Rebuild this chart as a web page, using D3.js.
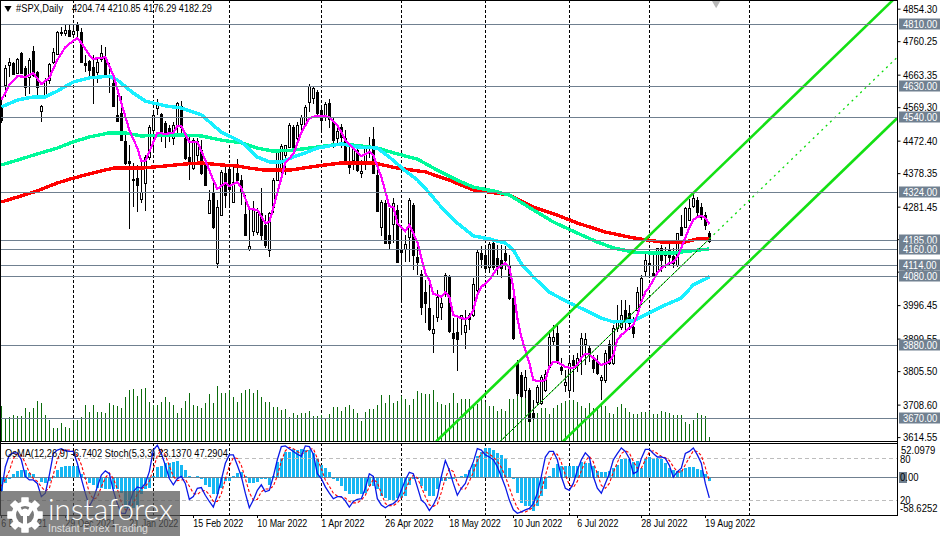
<!DOCTYPE html>
<html>
<head>
<meta charset="utf-8">
<script src="https://cdn.jsdelivr.net/npm/d3@7"></script>
<style>
html, body { margin: 0; padding: 0; background: #fff; overflow: hidden; }
svg { display: block; }
text { font-family: "Liberation Sans", sans-serif; font-size: 10px; fill: #000; }
</style>
</head>
<body>
<svg id="chart" width="942" height="536"></svg>
<script>
// open, high, low, close for every daily bar
const candles = [
[4570,4590,4523,4532],[4633,4691,4599,4682],[4691,4711,4656,4700],[4697,4700,4662,4665],[4668,4711,4665,4709],
[4726,4729,4665,4668],[4682,4688,4602,4627],[4656,4711,4607,4706],[4732,4746,4656,4662],[4671,4674,4602,4627],
[4558,4575,4526,4573],[4604,4654,4596,4648],[4648,4697,4636,4694],[4700,4740,4694,4729],[4723,4789,4720,4786],
[4786,4801,4775,4784],[4784,4807,4775,4793],[4793,4807,4772,4775],[4781,4807,4769,4789],[4807,4815,4769,4793],
[4786,4798,4700,4700],[4697,4720,4671,4691],[4703,4706,4656,4677],[4685,4720,4578,4662],[4671,4711,4639,4700],
[4709,4749,4700,4726],[4714,4743,4659,4662],[4662,4697,4610,4659],[4639,4665,4570,4573],[4546,4604,4526,4529],
[4552,4602,4471,4474],[4471,4488,4402,4408],[4414,4459,4217,4408],[4362,4408,4281,4359],[4365,4402,4266,4344],
[4304,4414,4292,4324],[4350,4431,4269,4425],[4425,4517,4416,4512],[4503,4552,4445,4546],[4567,4593,4546,4578],
[4549,4552,4468,4495],[4524,4529,4451,4498],[4509,4517,4468,4488],[4480,4526,4460,4517],[4517,4584,4488,4581],
[4573,4587,4495,4512],[4480,4495,4416,4422],[4425,4483,4359,4408],[4393,4480,4387,4474],[4431,4480,4402,4471],
[4445,4474,4373,4379],[4402,4408,4344,4344],[4263,4330,4260,4301],[4321,4359,4217,4223],[4119,4301,4104,4281],
[4258,4387,4255,4382],[4379,4402,4278,4315],[4391,4402,4278,4333],[4295,4402,4292,4353],[4379,4420,4353,4359],
[4359,4373,4286,4324],[4260,4315,4197,4200],[4159,4275,4153,4168],[4211,4298,4197,4275],[4209,4278,4200,4266],
[4263,4336,4183,4200],[4229,4258,4162,4171],[4156,4266,4136,4263],[4281,4365,4263,4359],[4359,4445,4356,4440],
[4388,4463,4373,4457],[4431,4460,4373,4460],[4454,4524,4451,4517],[4512,4517,4445,4451],[4480,4526,4457,4517],
[4521,4546,4495,4541],[4521,4575,4517,4570],[4584,4636,4555,4630],[4596,4630,4578,4625],[4613,4619,4538,4552],
[4561,4567,4503,4532],[4546,4584,4529,4578],[4581,4593,4509,4535],[4526,4538,4451,4474],[4480,4517,4457,4500],
[4512,4521,4451,4483],[4480,4503,4408,4411],[4402,4460,4376,4396],[4416,4460,4388,4448],[4445,4460,4382,4388],
[4379,4416,4365,4385],[4408,4454,4388,4454],[4451,4483,4422,4460],[4477,4512,4376,4379],[4373,4396,4266,4269],
[4223,4301,4197,4295],[4292,4301,4174,4177],[4200,4278,4159,4177],[4232,4307,4177,4292],[4272,4286,4119,4122],
[4156,4229,4011,4151],[4159,4200,4122,4174],[4194,4307,4122,4301],[4287,4292,4099,4142],[4136,4185,4084,4122],
[4087,4099,3969,3992],[4035,4070,3946,4003],[3989,4070,3922,3928],[3917,3969,3859,3928],[3963,4041,3948,4021],
[3992,4026,3954,4003],[4035,4090,4021,4084],[4078,4084,3917,3922],[3917,3960,3859,3902],[3920,3969,3807,3899],
[3960,3969,3911,3969],[3920,3983,3870,3940],[3969,3974,3925,3957],[3969,4075,3963,4058],[4041,4156,4026,4151],
[4148,4168,4104,4130],[4142,4165,4099,4104],[4107,4180,4090,4174],[4177,4183,4099,4107],[4133,4171,4084,4107],
[4128,4171,4076,4104],[4148,4168,4099,4128],[4110,4142,4012,4018],[4018,4041,3896,3902],[3830,3839,3734,3743],
[3795,3804,3729,3735],[3752,3810,3729,3789],[3752,3758,3659,3662],[3685,3723,3665,3674],[3717,3766,3708,3761],
[3714,3795,3708,3789],[3752,3810,3746,3798],[3818,3925,3813,3905],[3893,3940,3882,3905],[3917,3940,3827,3833],
[3818,3844,3795,3810],[3766,3810,3746,3775],[3752,3853,3734,3830],[3839,3853,3746,3824],[3824,3859,3804,3844],
[3847,3917,3795,3902],[3885,3917,3824,3899],[3873,3879,3833,3853],[3839,3853,3801,3815],[3833,3853,3795,3801],
[3781,3795,3723,3789],[3781,3868,3772,3859],[3885,3896,3824,3830],[3830,3940,3824,3931],[3931,3998,3920,3954],
[3934,4012,3925,3969],[3983,4012,3925,3954],[3974,3998,3925,3946],[3934,3963,3902,3917],[3983,4050,3969,4035],
[4012,4084,4006,4076],[4096,4148,4078,4128],[4119,4151,4078,4113],[4090,4151,4078,4081],[4093,4162,4084,4162],
[4162,4171,4093,4128],[4151,4165,4104,4142],[4156,4180,4110,4136],[4139,4162,4104,4119],[4113,4206,4107,4206],
[4223,4258,4200,4200],[4223,4280,4220,4278],[4243,4304,4240,4278],[4284,4318,4278,4307],[4301,4310,4252,4266],
[4281,4292,4243,4252],[4258,4266,4214,4229],[4204.74,4210.85,4176.29,4182.29]
];

const volumes = [
105,65,73,78,75,75,98,86,98,120,115,78,63,38,38,53,43,38,63,63,
73,108,86,108,86,86,83,113,108,105,98,133,153,156,135,156,158,118,108,108,
118,133,118,108,83,98,120,143,108,105,98,113,141,115,165,143,143,153,133,118,
143,153,156,143,153,133,118,118,103,101,93,95,73,85,78,85,85,90,75,75,
77,67,80,102,102,90,102,107,95,85,60,87,95,97,107,138,113,138,113,120,
135,125,107,127,150,143,140,140,152,117,110,107,113,145,115,125,125,125,110,110,
125,117,105,105,90,95,90,127,127,135,140,140,105,90,85,100,100,80,100,107,
113,120,122,122,117,105,100,113,100,97,110,105,85,80,102,110,100,87,80,80,
87,87,89,82,82,91,87,84,79,77,79,57,52,64,84,77,76,12
];

const osma = [
-22,-9,-4,5,9,10,10,6,4,0,-8,-9,-7,1,11,15,17,17,17,16,
5,-4,-9,-12,-17,-17,-18,-18,-19,-19,-25,-48,-48,-48,-45,-27,-19,-17,1,15,
17,21,22,23,24,19,11,2,0,2,-4,-12,-15,-26,-26,-17,-7,-7,2,6,
8,1,-9,-9,-8,-4,-4,-12,1,23,29,38,39,43,42,43,42,42,37,28,
19,14,7,-3,-7,-14,-22,-27,-27,-27,-27,-25,-14,-14,-19,-30,-32,-35,-35,-32,
-32,-30,-12,-4,-4,-14,-21,-30,-30,-19,-7,-6,-4,-3,-2,1,5,10,20,32,
39,44,45,42,37,34,27,14,-4,-25,-40,-45,-45,-53,-45,-30,-19,1,14,20,
17,17,17,17,17,23,22,22,16,9,7,7,9,14,19,27,27,27,23,24,
14,29,31,29,29,27,22,14,10,9,10,14,15,15,12,10,4,-6.74
];

const stochMain = [
32,68,85,88,88,78,54,49,49,44,25,30,56,87,92,94,91,90,90,73,
51,30,11,22,39,56,62,58,34,15,1,1,15,32,39,37,44,61,92,99,
87,70,51,42,51,54,44,21,25,37,38,27,18,10,27,49,73,85,85,70,
54,30,9,20,34,42,32,34,54,78,97,98,94,90,86,83,98,97,86,58,
51,39,30,22,25,25,19,10,18,21,22,37,58,54,22,13,9,13,15,20,
34,49,60,58,39,20,15,5,13,25,54,77,63,44,27,37,44,61,75,94,
92,85,82,78,68,54,39,20,6,1,3,6,8,15,30,54,82,90,90,78,
54,37,34,44,63,78,88,82,54,37,30,44,58,78,87,95,90,80,58,61,
80,93,93,87,82,82,80,70,53,61,66,87,90,95,85,73,44,23.14
];

const stochSignal = [
40,50,62,80,87,85,73,60,51,47,39,33,37,57,78,91,92,92,90,84,
71,51,31,21,24,39,52,59,51,36,17,6,6,16,29,36,40,47,65,84,
93,85,69,54,48,49,50,40,30,28,33,34,28,18,18,29,50,69,81,80,
70,51,31,20,21,32,36,36,40,55,76,91,96,94,90,86,89,93,94,80,
65,49,40,30,26,24,23,18,16,16,20,27,39,50,45,30,15,12,12,16,
23,34,48,56,52,39,25,13,11,14,31,52,65,61,45,36,36,47,60,77,
87,90,86,82,76,67,54,38,22,9,3,3,6,10,18,33,55,75,87,86,
74,56,42,38,47,62,76,83,75,58,41,37,44,60,74,87,91,88,76,66,
66,78,89,91,87,83,81,77,68,61,60,71,81,91,90,84,67,47.29
];

const maFastBars = [0,2,4,6,8,10,12,14,16,18,19,20,22,23,25,26,28,30,32,34,35,36,37,39,41,43,44,45,47,49,51,53,54,56,57,59,60,62,64,66,67,69,71,73,75,77,79,80,82,84,86,88,90,92,93,95,97,98,99,101,102,104,106,107,108,109,110,111,112,113,115,116,117,118,119,120,122,124,126,127,128,129,130,131,132,133,134,135,136,137,138,139,141,142,143,144,145,146,147,148,150,152,153,154,155,157,158,159,160,161,162,163,164,165,167,168,169,170,171,172,173,174,175,176,177];
const maFast = [4590,4633,4659,4657,4668,4636,4654,4706,4743,4761,4769,4755,4720,4709,4712,4714,4662,4581,4503,4451,4414,4414,4440,4495,4492,4495,4515,4515,4469,4469,4416,4358,4333,4350,4341,4353,4335,4275,4272,4234,4237,4321,4408,4434,4495,4538,4544,4544,4541,4518,4474,4451,4428,4440,4431,4367,4283,4280,4234,4211,4228,4179,4089,4069,4029,4026,4020,4034,4020,3968,3959,3956,3962,3982,4026,4049,4069,4104,4118,4104,4046,3959,3904,3867,3829,3780,3777,3777,3780,3818,3832,3832,3818,3815,3815,3823,3844,3855,3855,3844,3823,3832,3852,3896,3910,3930,3939,3968,4006,4034,4049,4069,4089,4104,4118,4121,4136,4162,4191,4220,4243,4252,4254,4249,4231];

const ma50Bars = [0,4,8,11,14,18,22,27,29,33,36,41,45,50,55,60,64,67,70,73,76,79,85,89,94,97,101,104,107,110,114,118,122,126,128,130,133,137,142,146,150,153,158,162,166,170,173,176,177];
const ma50 = [4570,4590,4599,4599,4616,4642,4654,4659,4648,4610,4587,4573,4567,4547,4497,4469,4425,4411,4411,4425,4437,4451,4463,4454,4451,4425,4385,4359,4321,4280,4234,4197,4188,4176,4156,4116,4078,4034,4003,3982,3959,3948,3951,3974,3997,4017,4055,4072,4078];

const ma144Bars = [0,4,9,14,18,22,27,31,35,41,45,50,55,60,64,68,73,79,85,90,94,99,104,109,114,118,123,127,133,138,144,149,153,158,163,168,172,177];
const ma144 = [4402,4416,4434,4451,4469,4483,4495,4495,4486,4489,4489,4486,4474,4466,4451,4442,4445,4454,4463,4457,4451,4434,4419,4387,4358,4338,4327,4315,4272,4237,4205,4179,4162,4150,4147,4147,4153,4159];

const ma200Bars = [0,4,9,14,18,23,28,35,41,46,50,55,59,62,66,72,79,85,93,99,106,112,118,127,133,139,144,151,158,165,171,174,177];
const ma200 = [4295,4309,4327,4350,4364,4379,4393,4393,4399,4405,4408,4402,4399,4393,4387,4387,4399,4408,4408,4393,4382,4358,4330,4315,4280,4257,4234,4208,4191,4179,4179,4188,4188];

// channel lines, two anchor points each
const channelUpperBars = [108.7, 222.9];
const channelUpper = [3602, 4879];
const channelLowerBars = [140.4, 224];
const channelLower = [3602, 4538];
const channelMidBars = [124.7, 177, 224];
const channelMid = [3602, 4188, 4714];

const levels = [4810, 4630, 4540, 4324, 4185, 4160, 4114, 4080, 3880, 3670];
const priceTicks = [4854.30, 4760.25, 4663.35, 4569.30, 4472.40, 4378.35, 4281.45, 4187.40, 4093.35, 3996.45, 3899.55, 3805.50, 3708.60, 3614.55];
const separators = [18, 38, 57, 80, 100, 121, 142, 162, 187];
const timeBars = [0, 16, 32, 48, 64, 80, 96, 112, 128, 144, 160, 176];
const timeLabels = ['6 Dec 2021', '29 Dec 2021', '21 Jan 2022', '15 Feb 2022', '10 Mar 2022', '1 Apr 2022', '26 Apr 2022', '18 May 2022', '10 Jun 2022', '6 Jul 2022', '28 Jul 2022', '19 Aug 2022'];
const stochLevels = [80, 20];

const title = '#SPX,Daily';
const titleValues = '4204.74 4210.85 4176.29 4182.29';
const subTitle = 'OsMA(12,26,9) -6.7402  Stoch(5,3,3) 23.1370 47.2904';

const W = 942, H = 536,
    axisX = 897.5, priceBottom = 441, subTop = 443, subBottom = 515;

const svg = d3.select('#chart');

const x = d3.scaleLinear().domain([0, 224]).range([1.33, 897.33]);
const y = d3.scaleLinear().domain([4879.4, 3603.3]).range([0, priceBottom]);
const yVol = d3.scaleLinear().domain([0, 300]).range([priceBottom, priceBottom - 100]);
const yOsma = d3.scaleLinear().domain([52.0979, -58.6252]).range([subTop, subBottom]);
const yStoch = d3.scaleLinear().domain([100, 0]).range([444.5, 514]);

const col = i => Math.floor(x(i));
const slate = '#708090';

// the reference font runs narrower than Liberation at the same height
function squeeze(sel, k) {
    sel.each(function () {
        const w = this.getComputedTextLength();
        d3.select(this).attr('textLength', w * k).attr('lengthAdjust', 'spacingAndGlyphs');
    });
}

// clip everything in the price pane and the sub pane
const defs = svg.append('defs');
defs.append('clipPath').attr('id', 'pricePane').append('rect').attr('width', axisX).attr('height', priceBottom);
defs.append('clipPath').attr('id', 'subPane').append('rect').attr('y', subTop).attr('width', axisX).attr('height', subBottom - subTop);

const price = svg.append('g').attr('clip-path', 'url(#pricePane)');
const sub = svg.append('g').attr('clip-path', 'url(#subPane)');

// Period separators
[[price, 0, priceBottom], [sub, subTop, subBottom]].forEach(([g, top, bottom]) => {
    g.selectAll(null).data(separators).join('line')
        .attr('x1', d => col(d) + 0.5).attr('x2', d => col(d) + 0.5)
        .attr('y1', top).attr('y2', bottom)
        .attr('stroke', '#000').attr('stroke-dasharray', '3,2');
});

// Volume
price.append('g').attr('shape-rendering', 'crispEdges')
    .selectAll('rect').data(volumes).join('rect')
    .attr('x', (d, i) => col(i)).attr('width', 1)
    .attr('y', d => yVol(d)).attr('height', d => priceBottom - yVol(d))
    .attr('fill', '#0b6b0b');

// Candles
const candle = price.append('g').attr('shape-rendering', 'crispEdges')
    .selectAll('g').data(candles).join('g');
candle.append('line')
    .attr('x1', (d, i) => col(i) + 0.5).attr('x2', (d, i) => col(i) + 0.5)
    .attr('y1', d => y(d[1])).attr('y2', d => y(d[2]))
    .attr('stroke', '#000');
candle.append('rect')
    .attr('x', (d, i) => col(i) - 0.5).attr('width', 2)
    .attr('y', d => Math.round(y(Math.max(d[0], d[3]))) + 0.5)
    .attr('height', d => Math.max(1, Math.round(Math.abs(y(d[0]) - y(d[3])))))
    .attr('fill', d => d[3] >= d[0] ? '#fff' : '#000')
    .attr('stroke', '#000');

// Moving averages
const maLine = d3.line().x(d => x(d[0])).y(d => y(d[1]));
[[ma200Bars, ma200, '#ff0000', 3.4], [ma144Bars, ma144, '#00fa9a', 3.4], [ma50Bars, ma50, '#18f0ff', 3.4], [maFastBars, maFast, '#ff00ff', 2.2]]
    .forEach(([bars, vals, color, width]) => {
        price.append('path')
            .attr('d', maLine(d3.zip(bars, vals)))
            .attr('fill', 'none').attr('stroke', color).attr('stroke-width', width)
            .attr('shape-rendering', 'crispEdges');
    });

// Levels
const levelsG = svg.append('g').attr('shape-rendering', 'crispEdges');
levelsG.selectAll('line').data(levels).join('line')
    .attr('x1', 0).attr('x2', axisX)
    .attr('y1', d => Math.round(y(d)) + 0.5).attr('y2', d => Math.round(y(d)) + 0.5)
    .attr('stroke', slate).attr('stroke-width', 1);

// Channel
[[channelUpperBars, channelUpper], [channelLowerBars, channelLower]].forEach(([bars, vals]) => {
    price.append('path')
        .attr('d', maLine(d3.zip(bars, vals)))
        .attr('fill', 'none').attr('stroke', '#14e014').attr('stroke-width', 2.6);
});
price.append('path')
    .attr('d', maLine(d3.zip(channelMidBars.slice(0, 2), channelMid.slice(0, 2))))
    .attr('fill', 'none').attr('stroke', '#00ff00');
price.append('path')
    .attr('d', maLine(d3.zip(channelMidBars.slice(0, 2), channelMid.slice(0, 2))))
    .attr('fill', 'none').attr('stroke', '#000').attr('stroke-dasharray', '2,2');
price.append('path')
    .attr('d', maLine(d3.zip(channelMidBars.slice(1), channelMid.slice(1))))
    .attr('fill', 'none').attr('stroke', '#0ada0a').attr('stroke-width', 1.3).attr('stroke-dasharray', '2,4');

// Grey arrow mark at the top
price.append('path')
    .attr('d', d3.symbol(d3.symbolTriangle, 50))
    .attr('transform', `translate(${x(178.7)},2) rotate(180)`)
    .attr('fill', '#b8b8b8');

// OsMA
sub.append('g').attr('shape-rendering', 'crispEdges')
    .selectAll('rect').data(osma).join('rect')
    .attr('x', (d, i) => col(i) - 1).attr('width', 3)
    .attr('y', d => Math.min(yOsma(d), yOsma(0)))
    .attr('height', d => Math.abs(yOsma(d) - yOsma(0)))
    .attr('fill', '#16b7f3');

// Sub pane levels
sub.append('line').attr('x1', 0).attr('x2', axisX)
    .attr('y1', Math.round(yOsma(0)) + 0.5).attr('y2', Math.round(yOsma(0)) + 0.5)
    .attr('stroke', slate).attr('shape-rendering', 'crispEdges');
sub.selectAll('.stoch-level').data(stochLevels).join('line')
    .attr('class', 'stoch-level')
    .attr('x1', 0).attr('x2', axisX)
    .attr('y1', d => Math.round(yStoch(d)) + 0.5).attr('y2', d => Math.round(yStoch(d)) + 0.5)
    .attr('stroke', '#bdbdbd').attr('stroke-dasharray', '4,3');

// Stochastic
const stochLine = d3.line().x((d, i) => x(i)).y(d => yStoch(d));
sub.append('path').attr('d', stochLine(stochSignal))
    .attr('fill', 'none').attr('stroke', '#ff0000').attr('stroke-width', 1.1).attr('stroke-dasharray', '3,2');
sub.append('path').attr('d', stochLine(stochMain))
    .attr('fill', 'none').attr('stroke', '#0a18e8').attr('stroke-width', 1.3);

// Frames
const frame = svg.append('g').attr('shape-rendering', 'crispEdges')
    .attr('stroke', '#000').attr('fill', 'none');
frame.append('line').attr('x1', 0).attr('x2', axisX).attr('y1', 0.5).attr('y2', 0.5);
frame.append('line').attr('x1', 0.5).attr('x2', 0.5).attr('y1', 0).attr('y2', subBottom);
frame.append('line').attr('x1', axisX).attr('x2', axisX).attr('y1', 0).attr('y2', subBottom + 1);
frame.append('line').attr('x1', 0).attr('x2', axisX).attr('y1', priceBottom + 0.5).attr('y2', priceBottom + 0.5);
frame.append('line').attr('x1', 0).attr('x2', axisX).attr('y1', subTop + 0.5).attr('y2', subTop + 0.5);
frame.append('line').attr('x1', 0).attr('x2', axisX).attr('y1', subBottom + 0.5).attr('y2', subBottom + 0.5);

// Price axis
const axisG = svg.append('g').attr('transform', `translate(${axisX},0)`)
    .call(d3.axisRight(y).tickValues(priceTicks).tickSize(3).tickFormat(d3.format('.2f')));
axisG.select('.domain').remove();
axisG.selectAll('text').attr('x', 5.5).attr('dy', '0.36em').call(squeeze, 0.95);
axisG.selectAll('line').attr('stroke', '#000');

// Level labels on the axis
const levelTag = svg.append('g').selectAll('g').data(levels).join('g')
    .attr('transform', d => `translate(899,${Math.round(y(d))})`);
levelTag.append('rect').attr('y', -5.5).attr('width', 41).attr('height', 11).attr('fill', slate);
levelTag.append('text').attr('x', 4).attr('dy', '0.36em').style('fill', '#fff')
    .text(d => d3.format('.2f')(d)).call(squeeze, 0.95);

// Sub pane axis labels
const subLabels = svg.append('g');
subLabels.append('rect').attr('x', 899).attr('y', 472).attr('width', 8).attr('height', 11).attr('fill', slate);
[['52.0979', 450, 901], ['80', 459, 900], ['0.00', 477.5, 900], ['20', 500.5, 900], ['-58.6252', 508.5, 900]]
    .forEach(([label, ty, tx]) => {
        subLabels.append('text').attr('x', tx).attr('y', ty).attr('dy', '0.36em').text(label).call(squeeze, 0.95);
    });

// Time axis
svg.append('g').selectAll('line').data(timeBars).join('line')
    .attr('x1', d => col(d) + 0.5).attr('x2', d => col(d) + 0.5)
    .attr('y1', subBottom).attr('y2', subBottom + 3)
    .attr('stroke', '#000').attr('shape-rendering', 'crispEdges');
svg.append('g').selectAll('text').data(timeBars).join('text')
    .attr('x', d => x(d)).attr('y', 527)
    .text((d, i) => timeLabels[i]).call(squeeze, 0.89);

// Titles
svg.append('path')
    .attr('d', d3.symbol(d3.symbolTriangle, 22))
    .attr('transform', 'translate(8,8) rotate(180)').attr('fill', '#000');
svg.append('text').attr('x', 16).attr('y', 12).text(title).call(squeeze, 0.93);
svg.append('text').attr('x', 72).attr('y', 12).text(titleValues).call(squeeze, 0.915);
svg.append('text').attr('x', 5).attr('y', 456.5).text(subTitle).call(squeeze, 0.93);

// Watermark
const mark = svg.append('g');
mark.append('rect').attr('y', 491).attr('width', 180).attr('height', 45)
    .attr('fill', '#555').attr('fill-opacity', 0.72);
const gear = mark.append('g').attr('transform', 'translate(25,515)').attr('fill', '#fff');
gear.selectAll('rect').data(d3.range(8)).join('rect')
    .attr('x', -3.5).attr('y', -17.5).attr('width', 7).attr('height', 35)
    .attr('transform', d => `rotate(${d * 45})`);
gear.append('circle').attr('r', 13.5);
gear.append('circle').attr('r', 9).attr('fill', '#7a7a7a');
gear.append('circle').attr('r', 3.5).attr('cy', -3);
gear.append('rect').attr('x', -2).attr('y', -3).attr('width', 4).attr('height', 15);
gear.append('path').attr('d', 'M-9,-7 L-4,1 L4,1 L9,-7 L5,-9 L2,-3 L-2,-3 L-5,-9 Z');
mark.append('text').attr('x', 48).attr('y', 520)
    .attr('textLength', 125).attr('lengthAdjust', 'spacingAndGlyphs')
    .style('font-family', 'Lato, sans-serif').style('font-weight', 300)
    .style('font-size', '30px').style('fill', '#fff')
    .text('instaforex');
mark.append('text').attr('x', 48).attr('y', 532)
    .attr('textLength', 100).attr('lengthAdjust', 'spacingAndGlyphs')
    .style('font-size', '11px').style('fill', '#f0f0f0').style('fill-opacity', 0.85)
    .text('Instant Forex Trading');
</script>
</body>
</html>
